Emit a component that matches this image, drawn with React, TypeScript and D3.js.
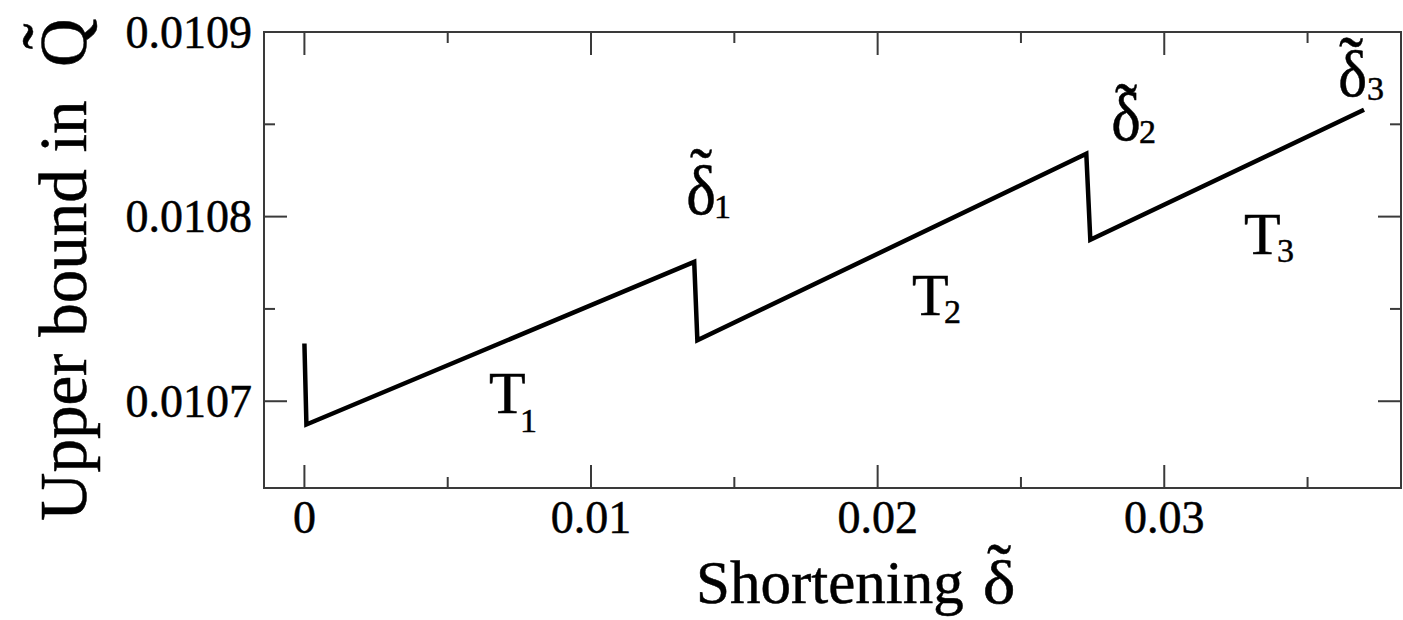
import React from "react";
import * as d3 from "d3";

// Upper bound in Q~ against the shortening delta~ (piecewise, one branch per T_i)
const shortening = [0, 0.00007, 0.0136, 0.01371, 0.02728, 0.02742, 0.03697];
const upperBound = [0.0107313, 0.0106874, 0.0107755, 0.010733, 0.0108341, 0.0107874, 0.0108579];

const xMajorTicks = [0, 0.01, 0.02, 0.03];
const xTickLabels = ["0", "0.01", "0.02", "0.03"];
const xMinorTicks = [0.005, 0.015, 0.025, 0.035];
const yMajorTicks = [0.0107, 0.0108, 0.0109];
const yTickLabels = ["0.0107", "0.0108", "0.0109"];
const yMinorTicks = [0.01075, 0.01085];

const W = 1403;
const H = 620;
const plot = { left: 264, right: 1401, top: 32, bottom: 488 };
const FONT_NAME = "Liberation Serif";
const FONT = "'Liberation Serif', 'Times New Roman', serif";
const AXIS = "#3a3a3a";
const MAJOR = 23;
const MINOR = 11;
const TILDE = "\u02DC";
const TEXT_STROKE = 0.5;

// Ink extents of a string, so accents and glyphs can be placed by their visible outline.
let measureCtx: CanvasRenderingContext2D | null = null;
function ink(text: string, size: number) {
  if (!measureCtx && typeof document !== "undefined") {
    measureCtx = document.createElement("canvas").getContext("2d");
  }
  if (!measureCtx) return { a: size * 0.68, d: 0, l: 0, r: size * 0.5 };
  measureCtx.font = `${size}px "${FONT_NAME}"`;
  const m = measureCtx.measureText(text);
  return {
    a: m.actualBoundingBoxAscent,
    d: m.actualBoundingBoxDescent,
    l: m.actualBoundingBoxLeft,
    r: m.actualBoundingBoxRight,
  };
}

type GlyphProps = {
  text: string;
  left: number;
  bottom: number;
  top?: number;
  size?: number;
  width?: number;
};

// Text whose ink box starts at `left` and ends at `bottom`; the size comes from `top` when given.
function Glyph({ text, left, bottom, top, size, width }: GlyphProps) {
  let fs = size ?? 40;
  if (top !== undefined && size === undefined) {
    const ref = ink(text, 100);
    fs = ((bottom - top) / (ref.a + ref.d)) * 100;
  }
  const m = ink(text, fs);
  const x = left + m.l;
  const y = bottom - m.d;
  const sx = width ? width / (m.l + m.r) : 1;
  const transform = sx !== 1 ? `translate(${left},0) scale(${sx},1) translate(${-left},0)` : undefined;
  return (
    <text x={x} y={y} fontSize={fs} transform={transform}>
      {text}
    </text>
  );
}

// A tilde accent centred on (cx, cy), with the given ink width.
function Tilde({ cx, cy, width }: { cx: number; cy: number; width: number }) {
  const ref = ink(TILDE, 100);
  const fs = (width / (ref.l + ref.r)) * 100;
  const m = ink(TILDE, fs);
  return (
    <text x={cx - (m.r - m.l) / 2} y={cy + (m.a - m.d) / 2} fontSize={fs}>
      {TILDE}
    </text>
  );
}

export default function App() {
  const xs = d3.scaleLinear().domain([-0.00141, 0.03826]).range([plot.left, plot.right]);
  const ys = d3.scaleLinear().domain([0.010653, 0.0109]).range([plot.bottom, plot.top]);

  const pts: [number, number][] = shortening.map((s, i) => [s, upperBound[i]]);
  const line = d3
    .line<[number, number]>()
    .x((d) => xs(d[0]))
    .y((d) => ys(d[1]));

  return (
    <div style={{ position: "fixed", left: 0, top: 0, width: W, height: H, background: "#fff" }}>
      <svg width={W} height={H} viewBox={`0 0 ${W} ${H}`}>
        <rect width={W} height={H} fill="#fff" />

        {/* frame */}
        <rect
          x={plot.left}
          y={plot.top}
          width={plot.right - plot.left}
          height={plot.bottom - plot.top}
          fill="none"
          stroke={AXIS}
          strokeWidth={2}
        />

        {/* x ticks, bottom and top, pointing inward */}
        {xMajorTicks.map((t) => (
          <g key={`xM${t}`} stroke={AXIS} strokeWidth={2}>
            <line x1={xs(t)} x2={xs(t)} y1={plot.bottom} y2={plot.bottom - MAJOR} />
            <line x1={xs(t)} x2={xs(t)} y1={plot.top} y2={plot.top + MAJOR} />
          </g>
        ))}
        {xMinorTicks.map((t) => (
          <g key={`xm${t}`} stroke={AXIS} strokeWidth={2}>
            <line x1={xs(t)} x2={xs(t)} y1={plot.bottom} y2={plot.bottom - MINOR} />
            <line x1={xs(t)} x2={xs(t)} y1={plot.top} y2={plot.top + MINOR} />
          </g>
        ))}

        {/* y ticks, left and right, pointing inward */}
        {yMajorTicks.map((t) => (
          <g key={`yM${t}`} stroke={AXIS} strokeWidth={2}>
            <line x1={plot.left} x2={plot.left + MAJOR} y1={ys(t)} y2={ys(t)} />
            <line x1={plot.right} x2={plot.right - MAJOR} y1={ys(t)} y2={ys(t)} />
          </g>
        ))}
        {yMinorTicks.map((t) => (
          <g key={`ym${t}`} stroke={AXIS} strokeWidth={2}>
            <line x1={plot.left} x2={plot.left + MINOR} y1={ys(t)} y2={ys(t)} />
            <line x1={plot.right} x2={plot.right - MINOR} y1={ys(t)} y2={ys(t)} />
          </g>
        ))}

        {/* tick labels */}
        <g fontFamily={FONT} fontSize={46} fill="#000" stroke="#000" strokeWidth={TEXT_STROKE}>
          {xMajorTicks.map((t, i) => (
            <text key={`xl${t}`} x={xs(t)} y={533} textAnchor="middle">
              {xTickLabels[i]}
            </text>
          ))}
          {yMajorTicks.map((t, i) => (
            <text key={`yl${t}`} x={252} y={ys(t) + 15.5} textAnchor="end">
              {yTickLabels[i]}
            </text>
          ))}
        </g>

        {/* curve */}
        <path
          d={line(pts) ?? ""}
          fill="none"
          stroke="#000"
          strokeWidth={4.5}
          strokeLinejoin="miter"
          strokeLinecap="butt"
        />

        <g fontFamily={FONT} fill="#000" stroke="#000" strokeWidth={TEXT_STROKE}>
          {/* branch labels */}
          <Glyph text="T" left={490} bottom={413} size={60} />
          <Glyph text="1" left={522} bottom={432} size={34} />
          <Glyph text="T" left={913} bottom={315} size={60} />
          <Glyph text="2" left={945} bottom={323} size={34} />
          <Glyph text="T" left={1245} bottom={254} size={60} />
          <Glyph text="3" left={1278} bottom={262} size={34} />

          {/* switch points */}
          <Glyph text="δ" left={688} top={165} bottom={215} width={26} />
          <Tilde cx={701} cy={153} width={22} />
          <Glyph text="1" left={716} bottom={218} size={34} />

          <Glyph text="δ" left={1113} top={93} bottom={141} width={26} />
          <Tilde cx={1126} cy={88} width={22} />
          <Glyph text="2" left={1140} bottom={143} size={34} />

          <Glyph text="δ" left={1340} top={50} bottom={97} width={25} />
          <Tilde cx={1351} cy={41.5} width={24} />
          <Glyph text="3" left={1368} bottom={100} size={34} />

          {/* x axis title */}
          <text x={696} y={603} fontSize={61}>Shortening</text>
          <Glyph text="δ" left={985} top={560} bottom={604} width={28} />
          <Tilde cx={999} cy={548.5} width={24} />
        </g>

        {/* y axis title */}
        <g
          transform="translate(86,521) rotate(-90)"
          fontFamily={FONT}
          fill="#000"
          stroke="#000"
          strokeWidth={TEXT_STROKE}
        >
          <text x={0} y={0} fontSize={67}>Upper bound in</text>
          <text x={454} y={0} fontSize={67}>Q</text>
          <Tilde cx={484.5} cy={-58} width={26} />
        </g>
      </svg>
    </div>
  );
}
